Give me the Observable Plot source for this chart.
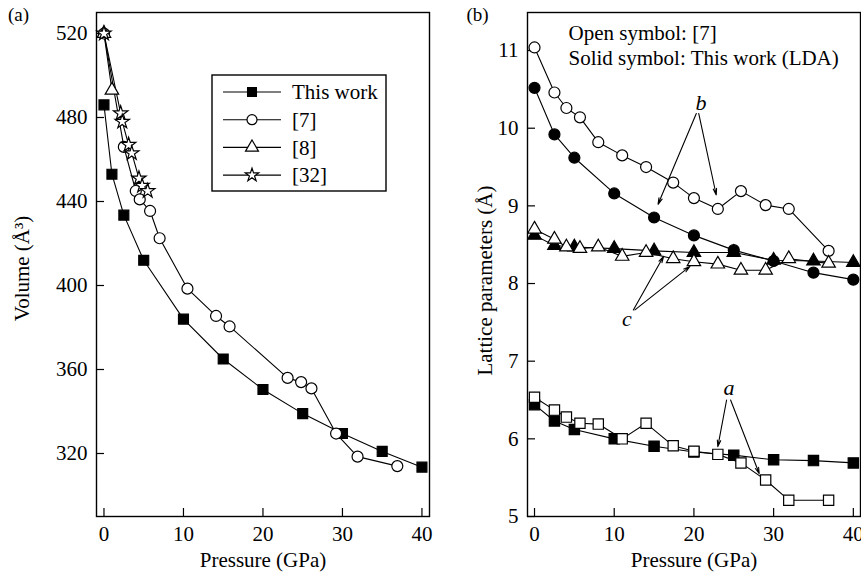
<!DOCTYPE html>
<html>
<head>
<meta charset="utf-8">
<script src="https://cdn.jsdelivr.net/npm/d3@7"></script>
<script src="https://cdn.jsdelivr.net/npm/@observablehq/plot@0.6"></script>
<style>
  html, body { margin: 0; padding: 0; background: #fff; }
  #wrap { position: relative; width: 861px; height: 574px; overflow: hidden; font-family: "Liberation Serif", serif; }
  #wrap > * { position: absolute; top: 0; }
</style>
</head>
<body>
<div id="wrap"></div>
<script>
// ---------- Panel (a): Volume vs pressure ----------
const pressureThisV = [0, 1, 2.5, 5, 10, 15, 20, 25, 30, 35, 40];
const volumeThis    = [486, 453, 433.5, 412, 384, 365, 350.5, 339, 329.5, 321, 313.5];
const pressureRef7V = [0, 2.5, 4, 4.5, 5.8, 7, 10.5, 14.1, 15.8, 23.1, 24.8, 26.1, 29.2, 31.9, 36.9];
const volumeRef7    = [520, 466, 445, 441, 435.5, 422.5, 398.5, 385.5, 380.5, 356, 354, 351, 329.5, 318.5, 314];
const pressureRef8V = [0, 1];
const volumeRef8    = [520, 493];
const pressureRef32V = [0, 2.1, 2.3, 3.1, 3.5, 4.4, 4.8, 5.5];
const volumeRef32    = [520, 482, 478, 467, 463, 451, 447.5, 445];
const legendLabels = ["This work", "[7]", "[8]", "[32]"];
const volumeTicks = [320, 360, 400, 440, 480, 520];
const pressureTicks = [0, 10, 20, 30, 40];

// ---------- Panel (b): Lattice parameters vs pressure ----------
const pressureThisL = [0, 2.5, 5, 10, 15, 20, 25, 30, 35, 40];
const bThis = [10.52, 9.92, 9.62, 9.16, 8.85, 8.62, 8.43, 8.29, 8.14, 8.05];
const cThis = [8.62, 8.49, 8.47, 8.45, 8.42, 8.40, 8.40, 8.30, 8.29, 8.27];
const aThis = [6.44, 6.23, 6.12, 6.00, 5.905, 5.83, 5.79, 5.73, 5.72, 5.69];
const pressureRef7L = [0, 2.5, 4, 5.7, 8, 11, 14, 17.4, 20, 23, 25.9, 29, 31.9, 36.9];
const bRef7 = [11.04, 10.46, 10.26, 10.14, 9.82, 9.65, 9.50, 9.30, 9.10, 8.96, 9.19, 9.01, 8.96, 8.42];
const cRef7 = [8.70, 8.57, 8.47, 8.45, 8.47, 8.35, 8.40, 8.32, 8.28, 8.25, 8.17, 8.17, 8.32, 8.26];
const aRef7 = [6.535, 6.37, 6.28, 6.20, 6.19, 6.00, 6.20, 5.91, 5.84, 5.80, 5.69, 5.47, 5.21, 5.21];
const latticeTicks = [5, 6, 7, 8, 9, 10, 11];
const noteLines = ["Open symbol: [7]", "Solid symbol: This work (LDA)"];

// annotation labels and arrows (data coordinates of panel b)
const annoLabels = [
  {text: "b", x: 20.9, y: 10.33},
  {text: "c", x: 11.6, y: 7.55},
  {text: "a", x: 24.4, y: 6.65}
];
const annoArrows = [
  {x1: 20.3, y1: 10.19, x2: 15.5, y2: 9.02},
  {x1: 20.6, y1: 10.19, x2: 22.8, y2: 9.14},
  {x1: 12.4, y1: 7.66, x2: 16.2, y2: 8.35},
  {x1: 12.6, y1: 7.66, x2: 19.5, y2: 8.22},
  {x1: 24.1, y1: 6.50, x2: 23.0, y2: 5.90},
  {x1: 24.6, y1: 6.50, x2: 28.2, y2: 5.55}
];

const FONT = "Liberation Serif, Times New Roman, serif";
const FS = 21;
const zip = (xs, ys) => xs.map((x, i) => ({x, y: ys[i]}));

function panel({xDomain, yDomain, yTicks, yLabel, yLabelDx, yLabelDy, tag, series, extra = [], left}) {
  const W = 431, H = 574, mt = 12, mb = 58, ml = 96, mr = 2;
  const pxX = (W - ml - mr) / (xDomain[1] - xDomain[0]);
  const pxY = (H - mt - mb) / (yDomain[1] - yDomain[0]);
  const tickLen = 8;
  const marks = [
    Plot.ruleY(yTicks, {y: d => d, x1: xDomain[0], x2: xDomain[0] + tickLen / pxX, stroke: "#000", strokeWidth: 1.2}),
    Plot.ruleX(pressureTicks, {x: d => d, y1: yDomain[0], y2: yDomain[0] + tickLen / pxY, stroke: "#000", strokeWidth: 1.2}),
    Plot.axisY(yTicks, {tickSize: 0, tickPadding: 9, label: null, fontSize: FS, tickFormat: d => String(d)}),
    Plot.axisX(pressureTicks, {tickSize: 0, tickPadding: 10, label: null, fontSize: FS, tickFormat: d => String(d)}),
    Plot.text([yLabel], {frameAnchor: "left", dx: yLabelDx, dy: yLabelDy, rotate: -90, text: d => d,
      textAnchor: "middle", lineAnchor: "middle", fontSize: FS}),
    Plot.text(["Pressure (GPa)"], {frameAnchor: "bottom", dy: 44, text: d => d,
      textAnchor: "middle", lineAnchor: "middle", fontSize: FS}),
    Plot.text([tag], {frameAnchor: "top-left", dx: left ? -78 : -50, dy: 2, text: d => d,
      textAnchor: "middle", lineAnchor: "middle", fontSize: 19}),
  ];
  for (const s of series) {
    const data = zip(s.xs, s.ys);
    marks.push(Plot.line(data, {x: "x", y: "y", stroke: "#000", strokeWidth: 1.1}));
  }
  for (const s of series) {
    const data = zip(s.xs, s.ys);
    marks.push(Plot.dot(data, {x: "x", y: "y", symbol: s.symbol, r: s.r,
      fill: s.filled ? "#000" : "#fff", stroke: "#000", strokeWidth: 1.2}));
  }
  marks.push(...extra);
  marks.push(Plot.frame({stroke: "#000", strokeWidth: 1.4}));
  const svg = Plot.plot({
    width: W, height: H, marginTop: mt, marginBottom: mb, marginLeft: ml, marginRight: mr,
    x: {domain: xDomain},
    y: {domain: yDomain},
    style: {fontFamily: FONT, fontSize: FS + "px", color: "#000", background: "transparent", overflow: "visible"},
    marks
  });
  return svg;
}

const wrap = document.getElementById("wrap");

const svgA = panel({
  xDomain: [-0.94, 40.95], yDomain: [290, 530], yTicks: volumeTicks,
  yLabel: "Volume (Å³)", yLabelDx: -74, yLabelDy: 4, tag: "(a)", left: true,
  series: [
    {xs: pressureThisV, ys: volumeThis, symbol: "square", r: 5.6, filled: true},
    {xs: pressureRef7V, ys: volumeRef7, symbol: "circle", r: 5.5, filled: false},
    {xs: pressureRef8V, ys: volumeRef8, symbol: "triangle", r: 5, filled: false},
    {xs: pressureRef32V, ys: volumeRef32, symbol: "star", r: 4.5, filled: false}
  ]
});
svgA.style.left = "0px";
wrap.appendChild(svgA);

const svgB = panel({
  xDomain: [-0.88, 40.9], yDomain: [5, 11.49], yTicks: latticeTicks,
  yLabel: "Lattice parameters (Å)", yLabelDx: -42, yLabelDy: 16, tag: "(b)", left: false,
  series: [
    {xs: pressureThisL, ys: bThis, symbol: "circle", r: 5.5, filled: true},
    {xs: pressureThisL, ys: cThis, symbol: "triangle", r: 5, filled: true},
    {xs: pressureThisL, ys: aThis, symbol: "square", r: 5.8, filled: true},
    {xs: pressureRef7L, ys: bRef7, symbol: "circle", r: 5.5, filled: false},
    {xs: pressureRef7L, ys: cRef7, symbol: "triangle", r: 5, filled: false},
    {xs: pressureRef7L, ys: aRef7, symbol: "square", r: 5.8, filled: false}
  ],
  extra: [
    Plot.text([noteLines[0]], {frameAnchor: "top-left", dx: 41, dy: 21, text: d => d,
      textAnchor: "start", lineAnchor: "middle", fontSize: FS}),
    Plot.text([noteLines[1]], {frameAnchor: "top-left", dx: 41, dy: 46, text: d => d,
      textAnchor: "start", lineAnchor: "middle", fontSize: FS}),
    Plot.arrow(annoArrows, {x1: "x1", y1: "y1", x2: "x2", y2: "y2", stroke: "#000", strokeWidth: 1.1, headLength: 9, headAngle: 30}),
    Plot.text(annoLabels, {x: "x", y: "y", text: "text", fontStyle: "italic", fontSize: 22})
  ]
});
svgB.style.left = "431px";
wrap.appendChild(svgB);

// ---------- Legend for panel (a) ----------
const legendSymbols = [d3.symbolSquare, d3.symbolCircle, d3.symbolTriangle, d3.symbolStar];
const legendFilled = [true, false, false, false];
const legendR = [5, 5, 4.8, 4.2];
const lg = d3.create("svg").attr("width", 176).attr("height", 118)
  .style("left", "211px").style("top", "74px");
lg.append("rect").attr("x", 1).attr("y", 1).attr("width", 174).attr("height", 116)
  .attr("fill", "#fff").attr("stroke", "#000").attr("stroke-width", 1.4);
legendLabels.forEach((lab, i) => {
  const cy = 18 + i * 27.7;
  lg.append("line").attr("x1", 12).attr("x2", 70).attr("y1", cy).attr("y2", cy)
    .attr("stroke", "#000").attr("stroke-width", 1.1);
  lg.append("path").attr("transform", `translate(41,${cy})`)
    .attr("d", d3.symbol(legendSymbols[i], Math.PI * legendR[i] * legendR[i])())
    .attr("fill", legendFilled[i] ? "#000" : "#fff").attr("stroke", "#000").attr("stroke-width", 1.2);
  lg.append("text").attr("x", 81).attr("y", cy).attr("dy", "0.34em")
    .attr("font-family", FONT).attr("font-size", FS).text(lab);
});
wrap.appendChild(lg.node());
</script>
</body>
</html>
